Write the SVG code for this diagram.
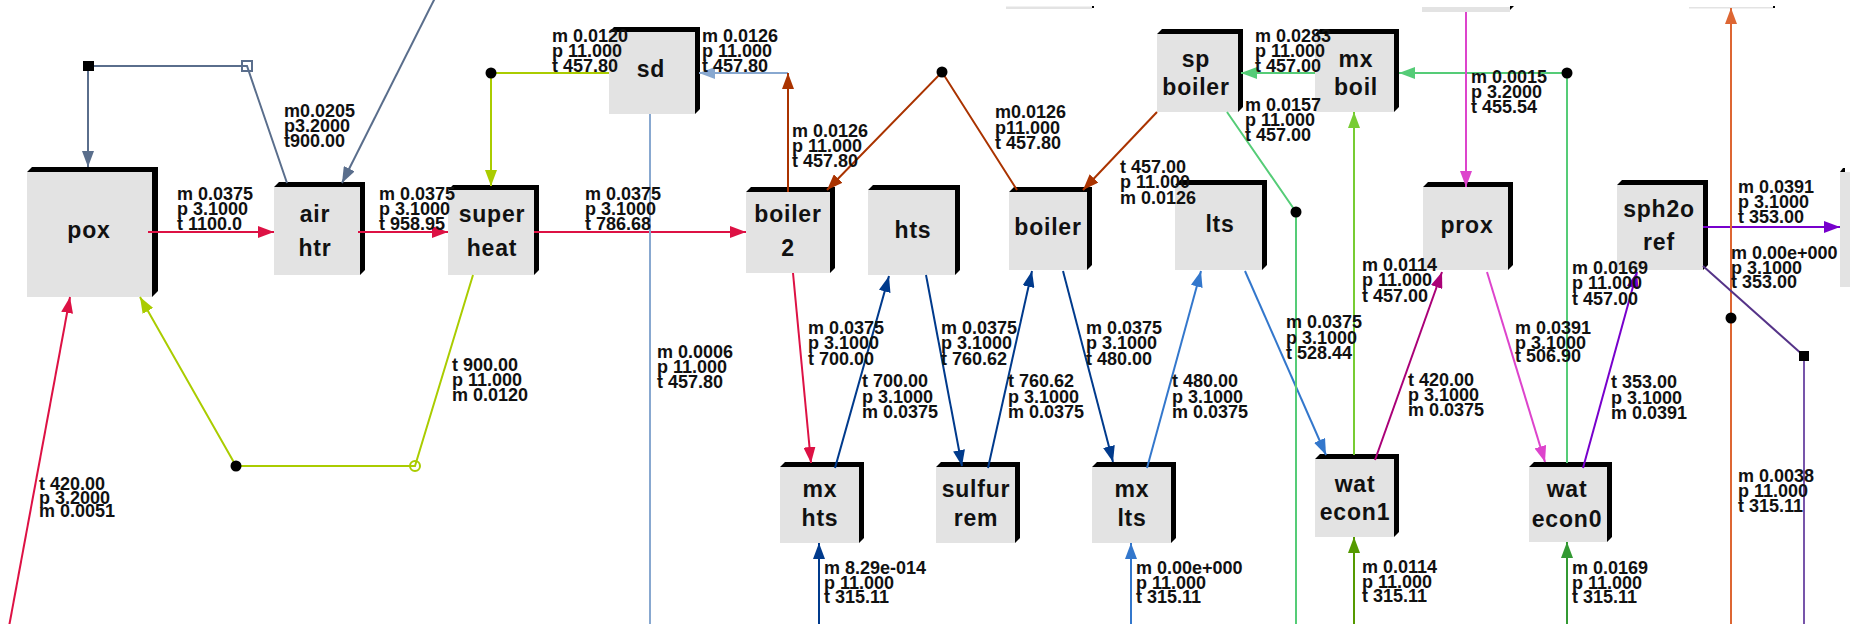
<svg xmlns="http://www.w3.org/2000/svg" width="1850" height="624" viewBox="0 0 1850 624">
<style>
.f{fill:#e3e3e3}
.s{fill:#000}
.nl{font-family:"Liberation Sans",Arial,sans-serif;font-weight:bold;font-size:23px;letter-spacing:0.8px;fill:#111;text-anchor:middle}
.lb{font-family:"Liberation Sans",Arial,sans-serif;font-weight:bold;font-size:18px;fill:#111}
.c{fill:none;stroke-width:2}
</style>
<defs>
<marker id="a-red" viewBox="0 0 16 12" refX="16" refY="6" markerWidth="16" markerHeight="12" orient="auto" markerUnits="userSpaceOnUse"><path d="M0,0L16,6L0,12z" fill="#dd1144"/></marker>
<marker id="a-gb" viewBox="0 0 16 12" refX="16" refY="6" markerWidth="16" markerHeight="12" orient="auto" markerUnits="userSpaceOnUse"><path d="M0,0L16,6L0,12z" fill="#5a6e8c"/></marker>
<marker id="a-yg" viewBox="0 0 16 12" refX="16" refY="6" markerWidth="16" markerHeight="12" orient="auto" markerUnits="userSpaceOnUse"><path d="M0,0L16,6L0,12z" fill="#aacc00"/></marker>
<marker id="a-lb" viewBox="0 0 16 12" refX="16" refY="6" markerWidth="16" markerHeight="12" orient="auto" markerUnits="userSpaceOnUse"><path d="M0,0L16,6L0,12z" fill="#88a8d0"/></marker>
<marker id="a-ob" viewBox="0 0 16 12" refX="16" refY="6" markerWidth="16" markerHeight="12" orient="auto" markerUnits="userSpaceOnUse"><path d="M0,0L16,6L0,12z" fill="#aa3300"/></marker>
<marker id="a-db" viewBox="0 0 16 12" refX="16" refY="6" markerWidth="16" markerHeight="12" orient="auto" markerUnits="userSpaceOnUse"><path d="M0,0L16,6L0,12z" fill="#003a8c"/></marker>
<marker id="a-bl" viewBox="0 0 16 12" refX="16" refY="6" markerWidth="16" markerHeight="12" orient="auto" markerUnits="userSpaceOnUse"><path d="M0,0L16,6L0,12z" fill="#3377cc"/></marker>
<marker id="a-gr" viewBox="0 0 16 12" refX="16" refY="6" markerWidth="16" markerHeight="12" orient="auto" markerUnits="userSpaceOnUse"><path d="M0,0L16,6L0,12z" fill="#55cc77"/></marker>
<marker id="a-lg" viewBox="0 0 16 12" refX="16" refY="6" markerWidth="16" markerHeight="12" orient="auto" markerUnits="userSpaceOnUse"><path d="M0,0L16,6L0,12z" fill="#77cc33"/></marker>
<marker id="a-g1" viewBox="0 0 16 12" refX="16" refY="6" markerWidth="16" markerHeight="12" orient="auto" markerUnits="userSpaceOnUse"><path d="M0,0L16,6L0,12z" fill="#559900"/></marker>
<marker id="a-g0" viewBox="0 0 16 12" refX="16" refY="6" markerWidth="16" markerHeight="12" orient="auto" markerUnits="userSpaceOnUse"><path d="M0,0L16,6L0,12z" fill="#339933"/></marker>
<marker id="a-mg" viewBox="0 0 16 12" refX="16" refY="6" markerWidth="16" markerHeight="12" orient="auto" markerUnits="userSpaceOnUse"><path d="M0,0L16,6L0,12z" fill="#dd44cc"/></marker>
<marker id="a-dm" viewBox="0 0 16 12" refX="16" refY="6" markerWidth="16" markerHeight="12" orient="auto" markerUnits="userSpaceOnUse"><path d="M0,0L16,6L0,12z" fill="#aa0077"/></marker>
<marker id="a-pu" viewBox="0 0 16 12" refX="16" refY="6" markerWidth="16" markerHeight="12" orient="auto" markerUnits="userSpaceOnUse"><path d="M0,0L16,6L0,12z" fill="#7700cc"/></marker>
<marker id="a-or" viewBox="0 0 16 12" refX="16" refY="6" markerWidth="16" markerHeight="12" orient="auto" markerUnits="userSpaceOnUse"><path d="M0,0L16,6L0,12z" fill="#dd6633"/></marker>
</defs>

<g id="nodes">
<g id="n-top1"><rect class="f" x="1006" y="6.5" width="86" height="2.5"/><rect class="s" x="1092" y="6" width="2" height="2"/></g>
<g id="n-top2"><rect class="f" x="1422" y="7" width="88" height="5"/><polygon class="s" points="1510,6 1514,6 1510,10"/></g>
<g id="n-top3"><rect class="f" x="1689" y="7" width="84" height="1.5"/><rect class="s" x="1773" y="6" width="2" height="2"/></g>
<g id="n-right"><polygon class="s" points="1840,172 1843,168 1845,168 1845,172"/><rect class="f" x="1840" y="172" width="20" height="115"/></g>

<g id="n-pox"><polygon class="s" points="27,172 32,167 158,167 158,291 152,297 152,172"/><rect class="f" x="27" y="172" width="125" height="125"/><text class="nl" x="89" y="238">pox</text></g>
<g id="n-airhtr"><polygon class="s" points="274,187 279,182 365,182 365,270 360,275 360,187"/><rect class="f" x="274" y="187" width="86" height="88"/><text class="nl" x="315" y="222">air</text><text class="nl" x="315" y="256">htr</text></g>
<g id="n-superheat"><polygon class="s" points="448,190 453,185 539,185 539,270 534,275 534,190"/><rect class="f" x="448" y="190" width="86" height="85"/><text class="nl" x="492" y="222">super</text><text class="nl" x="492" y="256">heat</text></g>
<g id="n-sd"><polygon class="s" points="609,32 614,27 700,27 700,109 695,114 695,32"/><rect class="f" x="609" y="32" width="86" height="82"/><text class="nl" x="651" y="77">sd</text></g>
<g id="n-boiler2"><polygon class="s" points="746,192 751,187 835,187 835,268 830,273 830,192"/><rect class="f" x="746" y="192" width="84" height="81"/><text class="nl" x="788" y="222">boiler</text><text class="nl" x="788" y="256">2</text></g>
<g id="n-hts"><polygon class="s" points="868,190 873,185 960,185 960,270 955,275 955,190"/><rect class="f" x="868" y="190" width="87" height="85"/><text class="nl" x="913" y="238">hts</text></g>
<g id="n-boiler"><polygon class="s" points="1009,192 1014,187 1092,187 1092,265 1087,270 1087,192"/><rect class="f" x="1009" y="192" width="78" height="78"/><text class="nl" x="1048" y="235">boiler</text></g>
<g id="n-lts"><polygon class="s" points="1175,185 1180,180 1267,180 1267,265 1262,270 1262,185"/><rect class="f" x="1175" y="185" width="87" height="85"/><text class="nl" x="1220" y="232">lts</text></g>
<g id="n-spboiler"><polygon class="s" points="1157,34 1162,29 1243,29 1243,107 1238,112 1238,34"/><rect class="f" x="1157" y="34" width="81" height="78"/><text class="nl" x="1196" y="67">sp</text><text class="nl" x="1196" y="95">boiler</text></g>
<g id="n-mxboil"><polygon class="s" points="1315,34 1320,29 1399,29 1399,107 1394,112 1394,34"/><rect class="f" x="1315" y="34" width="79" height="78"/><text class="nl" x="1356" y="67">mx</text><text class="nl" x="1356" y="95">boil</text></g>
<g id="n-prox"><polygon class="s" points="1423,187 1428,182 1513,182 1513,265 1508,270 1508,187"/><rect class="f" x="1423" y="187" width="85" height="83"/><text class="nl" x="1467" y="233">prox</text></g>
<g id="n-sph2oref"><polygon class="s" points="1617,185 1622,180 1708,180 1708,265 1703,270 1703,185"/><rect class="f" x="1617" y="185" width="86" height="85"/><text class="nl" x="1659" y="217">sph2o</text><text class="nl" x="1659" y="250">ref</text></g>
<g id="n-mxhts"><polygon class="s" points="780,467 785,462 864,462 864,538 859,543 859,467"/><rect class="f" x="780" y="467" width="79" height="76"/><text class="nl" x="820" y="497">mx</text><text class="nl" x="820" y="526">hts</text></g>
<g id="n-sulfurrem"><polygon class="s" points="936,467 941,462 1020,462 1020,538 1015,543 1015,467"/><rect class="f" x="936" y="467" width="79" height="76"/><text class="nl" x="976" y="497">sulfur</text><text class="nl" x="976" y="526">rem</text></g>
<g id="n-mxlts"><polygon class="s" points="1092,467 1097,462 1176,462 1176,538 1171,543 1171,467"/><rect class="f" x="1092" y="467" width="79" height="76"/><text class="nl" x="1132" y="497">mx</text><text class="nl" x="1132" y="526">lts</text></g>
<g id="n-watecon1"><polygon class="s" points="1315,459 1320,454 1399,454 1399,532 1394,537 1394,459"/><rect class="f" x="1315" y="459" width="79" height="78"/><text class="nl" x="1355" y="492">wat</text><text class="nl" x="1355" y="520">econ1</text></g>
<g id="n-watecon0"><polygon class="s" points="1529,467 1534,462 1612,462 1612,537 1607,542 1607,467"/><rect class="f" x="1529" y="467" width="78" height="75"/><text class="nl" x="1567" y="497">wat</text><text class="nl" x="1567" y="527">econ0</text></g>
</g>

<g id="connectors">
<path class="c" stroke="#5a6e8c" d="M88,66L88,167" marker-end="url(#a-gb)"/>
<path class="c" stroke="#5a6e8c" d="M88,66L247,66L287,183"/>
<path class="c" stroke="#5a6e8c" d="M437,-6L342,183" marker-end="url(#a-gb)"/>
<path class="c" stroke="#dd1144" d="M148,232L274,232" marker-end="url(#a-red)"/>
<path class="c" stroke="#dd1144" d="M358,232L448,232" marker-end="url(#a-red)"/>
<path class="c" stroke="#dd1144" d="M534,232L746,232" marker-end="url(#a-red)"/>
<path class="c" stroke="#dd1144" d="M793,273L811,463" marker-end="url(#a-red)"/>
<path class="c" stroke="#dd1144" d="M8,632L70,297" marker-end="url(#a-red)"/>
<path class="c" stroke="#aacc00" d="M609,73L491,73L491,186" marker-end="url(#a-yg)"/>
<path class="c" stroke="#aacc00" d="M473,275L415,466L236,466L140,297" marker-end="url(#a-yg)"/>
<path class="c" stroke="#88a8d0" d="M788,73L699,73" marker-end="url(#a-lb)"/>
<path class="c" stroke="#88a8d0" d="M650,114L650,630"/>
<path class="c" stroke="#aa3300" d="M788,192L788,73" marker-end="url(#a-ob)"/>
<path class="c" stroke="#aa3300" d="M1017,190L942,72L827,190" marker-end="url(#a-ob)"/>
<path class="c" stroke="#aa3300" d="M1157,112L1083,190" marker-end="url(#a-ob)"/>
<path class="c" stroke="#003a8c" d="M835,468L889,276" marker-end="url(#a-db)"/>
<path class="c" stroke="#003a8c" d="M926,275L962,466" marker-end="url(#a-db)"/>
<path class="c" stroke="#003a8c" d="M988,468L1032,271" marker-end="url(#a-db)"/>
<path class="c" stroke="#003a8c" d="M1063,271L1113,462" marker-end="url(#a-db)"/>
<path class="c" stroke="#003a8c" d="M819,630L819,543" marker-end="url(#a-db)"/>
<path class="c" stroke="#3377cc" d="M1147,468L1201,271" marker-end="url(#a-bl)"/>
<path class="c" stroke="#3377cc" d="M1245,271L1326,455" marker-end="url(#a-bl)"/>
<path class="c" stroke="#3377cc" d="M1131,630L1131,543" marker-end="url(#a-bl)"/>
<path class="c" stroke="#55cc77" d="M1315,73L1241,73" marker-end="url(#a-gr)"/>
<path class="c" stroke="#55cc77" d="M1227,112L1296,212L1296,630"/>
<path class="c" stroke="#55cc77" d="M1567,463L1567,73L1399,73" marker-end="url(#a-gr)"/>
<path class="c" stroke="#77cc33" d="M1354,455L1354,112" marker-end="url(#a-lg)"/>
<path class="c" stroke="#559900" d="M1354,630L1354,537" marker-end="url(#a-g1)"/>
<path class="c" stroke="#339933" d="M1567,630L1567,542" marker-end="url(#a-g0)"/>
<path class="c" stroke="#dd44cc" d="M1466,12L1466,187" marker-end="url(#a-mg)"/>
<path class="c" stroke="#dd44cc" d="M1487,272L1545,462" marker-end="url(#a-mg)"/>
<path class="c" stroke="#aa0077" d="M1375,460L1442,272" marker-end="url(#a-dm)"/>
<path class="c" stroke="#7700cc" d="M1583,468L1637,272" marker-end="url(#a-pu)"/>
<path class="c" stroke="#7700cc" d="M1703,227L1840,227" marker-end="url(#a-pu)"/>
<path class="c" stroke="#dd6633" d="M1731,630L1731,8" marker-end="url(#a-or)"/>
<path class="c" stroke="#553388" d="M1703,266L1804,356"/>
<path class="c" stroke="#7755aa" d="M1804,356L1804,630"/>
<rect x="83" y="61" width="11" height="10" fill="#000"/>
<rect x="242" y="61" width="10" height="10" fill="none" stroke="#5a6e8c" stroke-width="2"/>
<circle cx="491" cy="73" r="5.5" fill="#000"/>
<circle cx="236" cy="466" r="5.5" fill="#000"/>
<circle cx="415" cy="466" r="5" fill="none" stroke="#aacc00" stroke-width="2"/>
<circle cx="942" cy="72" r="5.5" fill="#000"/>
<circle cx="1296" cy="212" r="5.5" fill="#000"/>
<circle cx="1567" cy="73" r="5.5" fill="#000"/>
<circle cx="1731" cy="318" r="5.5" fill="#000"/>
<rect x="1799" y="351" width="10" height="10" fill="#000"/>
</g>

<g id="labels" class="lb">
<text class="lb"><tspan x="177" y="200">m 0.0375</tspan><tspan x="177" y="215">p 3.1000</tspan><tspan x="177" y="230">t 1100.0</tspan></text>
<text class="lb"><tspan x="284" y="117">m0.0205</tspan><tspan x="284" y="132">p3.2000</tspan><tspan x="284" y="147">t900.00</tspan></text>
<text class="lb"><tspan x="379" y="200">m 0.0375</tspan><tspan x="379" y="215">p 3.1000</tspan><tspan x="379" y="230">t 958.95</tspan></text>
<text class="lb"><tspan x="552" y="42">m 0.0120</tspan><tspan x="552" y="57">p 11.000</tspan><tspan x="552" y="72">t 457.80</tspan></text>
<text class="lb"><tspan x="702" y="42">m 0.0126</tspan><tspan x="702" y="57">p 11.000</tspan><tspan x="702" y="72">t 457.80</tspan></text>
<text class="lb"><tspan x="585" y="200">m 0.0375</tspan><tspan x="585" y="215">p 3.1000</tspan><tspan x="585" y="230">t 786.68</tspan></text>
<text class="lb"><tspan x="792" y="137">m 0.0126</tspan><tspan x="792" y="152">p 11.000</tspan><tspan x="792" y="167">t 457.80</tspan></text>
<text class="lb"><tspan x="995" y="118">m0.0126</tspan><tspan x="995" y="134">p11.000</tspan><tspan x="995" y="149">t 457.80</tspan></text>
<text class="lb"><tspan x="1120" y="173">t 457.00</tspan><tspan x="1120" y="188">p 11.000</tspan><tspan x="1120" y="204">m 0.0126</tspan></text>
<text class="lb"><tspan x="1255" y="42">m 0.0283</tspan><tspan x="1255" y="57">p 11.000</tspan><tspan x="1255" y="72">t 457.00</tspan></text>
<text class="lb"><tspan x="1245" y="111">m 0.0157</tspan><tspan x="1245" y="126">p 11.000</tspan><tspan x="1245" y="141">t 457.00</tspan></text>
<text class="lb"><tspan x="1471" y="83">m 0.0015</tspan><tspan x="1471" y="98">p 3.2000</tspan><tspan x="1471" y="113">t 455.54</tspan></text>
<text class="lb"><tspan x="1738" y="193">m 0.0391</tspan><tspan x="1738" y="208">p 3.1000</tspan><tspan x="1738" y="223">t 353.00</tspan></text>
<text class="lb"><tspan x="1731" y="259">m 0.00e+000</tspan><tspan x="1731" y="274">p 3.1000</tspan><tspan x="1731" y="288">t 353.00</tspan></text>
<text class="lb"><tspan x="1362" y="271">m 0.0114</tspan><tspan x="1362" y="286">p 11.000</tspan><tspan x="1362" y="302">t 457.00</tspan></text>
<text class="lb"><tspan x="1572" y="274">m 0.0169</tspan><tspan x="1572" y="289">p 11.000</tspan><tspan x="1572" y="305">t 457.00</tspan></text>
<text class="lb"><tspan x="39" y="490">t 420.00</tspan><tspan x="39" y="504">p 3.2000</tspan><tspan x="39" y="517">m 0.0051</tspan></text>
<text class="lb"><tspan x="452" y="371">t 900.00</tspan><tspan x="452" y="386">p 11.000</tspan><tspan x="452" y="401">m 0.0120</tspan></text>
<text class="lb"><tspan x="657" y="358">m 0.0006</tspan><tspan x="657" y="373">p 11.000</tspan><tspan x="657" y="388">t 457.80</tspan></text>
<text class="lb"><tspan x="808" y="334">m 0.0375</tspan><tspan x="808" y="349">p 3.1000</tspan><tspan x="808" y="365">t 700.00</tspan></text>
<text class="lb"><tspan x="862" y="387">t 700.00</tspan><tspan x="862" y="403">p 3.1000</tspan><tspan x="862" y="418">m 0.0375</tspan></text>
<text class="lb"><tspan x="824" y="574">m 8.29e-014</tspan><tspan x="824" y="589">p 11.000</tspan><tspan x="824" y="603">t 315.11</tspan></text>
<text class="lb"><tspan x="941" y="334">m 0.0375</tspan><tspan x="941" y="349">p 3.1000</tspan><tspan x="941" y="365">t 760.62</tspan></text>
<text class="lb"><tspan x="1008" y="387">t 760.62</tspan><tspan x="1008" y="403">p 3.1000</tspan><tspan x="1008" y="418">m 0.0375</tspan></text>
<text class="lb"><tspan x="1086" y="334">m 0.0375</tspan><tspan x="1086" y="349">p 3.1000</tspan><tspan x="1086" y="365">t 480.00</tspan></text>
<text class="lb"><tspan x="1172" y="387">t 480.00</tspan><tspan x="1172" y="403">p 3.1000</tspan><tspan x="1172" y="418">m 0.0375</tspan></text>
<text class="lb"><tspan x="1286" y="328">m 0.0375</tspan><tspan x="1286" y="344">p 3.1000</tspan><tspan x="1286" y="359">t 528.44</tspan></text>
<text class="lb"><tspan x="1136" y="574">m 0.00e+000</tspan><tspan x="1136" y="589">p 11.000</tspan><tspan x="1136" y="603">t 315.11</tspan></text>
<text class="lb"><tspan x="1515" y="334">m 0.0391</tspan><tspan x="1515" y="349">p 3.1000</tspan><tspan x="1515" y="362">t 506.90</tspan></text>
<text class="lb"><tspan x="1408" y="386">t 420.00</tspan><tspan x="1408" y="401">p 3.1000</tspan><tspan x="1408" y="416">m 0.0375</tspan></text>
<text class="lb"><tspan x="1611" y="388">t 353.00</tspan><tspan x="1611" y="404">p 3.1000</tspan><tspan x="1611" y="419">m 0.0391</tspan></text>
<text class="lb"><tspan x="1738" y="482">m 0.0038</tspan><tspan x="1738" y="497">p 11.000</tspan><tspan x="1738" y="512">t 315.11</tspan></text>
<text class="lb"><tspan x="1362" y="573">m 0.0114</tspan><tspan x="1362" y="588">p 11.000</tspan><tspan x="1362" y="602">t 315.11</tspan></text>
<text class="lb"><tspan x="1572" y="574">m 0.0169</tspan><tspan x="1572" y="589">p 11.000</tspan><tspan x="1572" y="603">t 315.11</tspan></text>
</g>
</svg>
